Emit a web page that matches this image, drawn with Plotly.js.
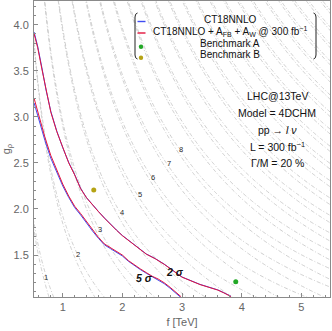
<!DOCTYPE html>
<html>
<head>
<meta charset="utf-8">
<script src="https://cdn.plot.ly/plotly-3.0.1.min.js"></script>
<style>html,body{margin:0;padding:0;background:#fff}#plot{width:332px;height:331px}</style>
</head>
<body>
<div id="plot"></div>
<script>
// 5 sigma reach (lower pair)
var f5 = [0.52, 0.60, 0.70, 0.80, 0.90, 1.00, 1.10, 1.20, 1.30, 1.40, 1.50, 1.60, 1.70, 1.80, 1.90, 2.00, 2.10, 2.20, 2.30, 2.40, 2.50, 2.60, 2.70, 2.80, 2.90, 2.98];
var g5Red = [3.20, 3.00, 2.78, 2.58, 2.42, 2.27, 2.14, 2.03, 1.95, 1.86, 1.77, 1.69, 1.62, 1.58, 1.54, 1.50, 1.44, 1.39, 1.35, 1.31, 1.27, 1.24, 1.20, 1.15, 1.09, 1.05];
var g5Blue = [3.15, 2.96, 2.745, 2.55, 2.395, 2.25, 2.125, 2.015, 1.935, 1.845, 1.76, 1.68, 1.61, 1.57, 1.53, 1.49, 1.433, 1.383, 1.343, 1.303, 1.263, 1.23, 1.19, 1.14, 1.08, 1.04];

// 2 sigma reach (upper pair)
var f2 = [0.52, 0.58, 0.65, 0.72, 0.80, 0.90, 1.00, 1.10, 1.20, 1.30, 1.40, 1.50, 1.60, 1.70, 1.80, 1.90, 2.00, 2.10, 2.20, 2.30, 2.40, 2.55, 2.70, 2.85, 3.00, 3.15, 3.30, 3.45, 3.60, 3.70, 3.82];
var g2Red = [3.90, 3.75, 3.52, 3.28, 3.05, 2.84, 2.66, 2.50, 2.37, 2.22, 2.12, 2.04, 1.97, 1.90, 1.83, 1.77, 1.71, 1.66, 1.60, 1.56, 1.51, 1.46, 1.40, 1.33, 1.26, 1.22, 1.18, 1.15, 1.12, 1.09, 1.05];
var g2Blue = [3.92, 3.765, 3.535, 3.29, 3.06, 2.845, 2.665, 2.505, 2.373, 2.223, 2.122, 2.042, 1.972, 1.902, 1.832, 1.772, 1.712, 1.662, 1.602, 1.562, 1.512, 1.462, 1.402, 1.332, 1.262, 1.222, 1.182, 1.152, 1.122, 1.092, 1.052];

// benchmark points
var benchAF = [3.90], benchAG = [1.21];
var benchBF = [1.52], benchBG = [2.205];

// mass contour labels (TeV)
var labelText = ['1', '2', '3', '4', '5', '6', '7', '8'];
var labelF = [0.726, 1.256, 1.620, 1.995, 2.292, 2.515, 2.773, 2.979];
var labelG = [1.257, 1.503, 1.782, 1.962, 2.154, 2.341, 2.498, 2.649];

// contour levels of the two heavy boson masses
var massStart = 1, massEnd = 30, massStep = 1;

var gridF = [], gridG = [];
for (var i = 0; i <= 260; i++) gridF.push(0.4 + i * 0.02);
for (var j = 0; j <= 175; j++) gridG.push(0.95 + j * 0.02);
function massGrid(c) {
  var z = [];
  for (var j = 0; j < gridG.length; j++) {
    var row = [];
    for (var i = 0; i < gridF.length; i++) row.push(gridF[i] * Math.sqrt(gridG[j] * gridG[j] + c));
    z.push(row);
  }
  return z;
}

var BLUE = '#3f4cf2', RED = '#e3143c';

function contourTrace(c) {
  return {
    type: 'contour', x: gridF, y: gridG, z: massGrid(c),
    autocontour: false,
    contours: {start: massStart, end: massEnd, size: massStep, coloring: 'none'},
    line: {color: '#c2c2c2', width: 0.8, dash: '4px,2px,1px,2px'},
    showscale: false, hoverinfo: 'skip'
  };
}

var data = [
  contourTrace(0.3),
  contourTrace(0.6),
  {x: f2, y: g2Blue, mode: 'lines', line: {color: BLUE, width: 1}},
  {x: f2, y: g2Red, mode: 'lines', line: {color: RED, width: 1}},
  {x: f5, y: g5Blue, mode: 'lines', line: {color: BLUE, width: 1}},
  {x: f5, y: g5Red, mode: 'lines', line: {color: RED, width: 1}},
  {x: benchAF, y: benchAG, mode: 'markers', marker: {color: '#22a826', size: 5}},
  {x: benchBF, y: benchBG, mode: 'markers', marker: {color: '#b5a314', size: 5}}
];

// pixel -> paper helpers for the decorations
var L = 34, T = 1, W = 296, H = 296;
function px(x) { return (x - L) / W; }
function py(y) { return 1 - (y - T) / H; }

var FONT = 'Liberation Sans, Arial, sans-serif';
function note(x, y, text, size, ref) {
  var a = {x: x, y: y, text: text, showarrow: false, xanchor: 'center', yanchor: 'middle',
    font: {size: size, color: '#111', family: FONT}};
  if (ref) { a.xref = 'paper'; a.yref = 'paper'; }
  return a;
}

var annotations = [];
for (var k = 0; k < labelText.length; k++) {
  var a = note(labelF[k], labelG[k], labelText[k], 7.5);
  a.font.color = '#2a2a2a';
  annotations.push(a);
}
annotations.push(note(2.375, 1.251, '<b><i>5 σ</i></b>', 10.5));
annotations.push(note(2.884, 1.319, '<b><i>2 σ</i></b>', 10.5));

var legendText = ['CT18NNLO', 'CT18NNLO + A<sub>FB</sub> + A<sub>W</sub> @ 300 fb<sup>−1</sup>', 'Benchmark A', 'Benchmark B'];
var legendY = [19, 31.5, 43.5, 54.5];
for (var k = 0; k < legendText.length; k++) {
  annotations.push(note(px(230), py(legendY[k]), legendText[k], 10, true));
}

var infoText = ['LHC@13TeV', 'Model = 4DCHM', 'pp → <i>l ν</i>', 'L = 300 fb<sup>−1</sup>', 'Γ/M = 20 %'];
var infoY = [96.5, 113, 129.5, 146, 162.5];
for (var k = 0; k < infoText.length; k++) {
  annotations.push(note(px(277), py(infoY[k]), infoText[k], 10.5, true));
}

function bracket(x0, dir) {
  var a = px(x0), b = px(x0 + 2.5 * dir);
  return 'M ' + b + ',' + py(13) + ' Q ' + a + ',' + py(13.5) + ' ' + a + ',' + py(17) +
    ' L ' + a + ',' + py(55) + ' Q ' + a + ',' + py(58.5) + ' ' + b + ',' + py(59);
}

var shapes = [
  {type: 'path', xref: 'paper', yref: 'paper', path: bracket(135, 1), line: {color: '#222', width: 1}},
  {type: 'path', xref: 'paper', yref: 'paper', path: bracket(316, -1), line: {color: '#222', width: 1}},
  {type: 'line', xref: 'paper', yref: 'paper', x0: px(137.5), x1: px(145.5), y0: py(21.5), y1: py(21.5), line: {color: BLUE, width: 1.4}},
  {type: 'line', xref: 'paper', yref: 'paper', x0: px(137.5), x1: px(145.5), y0: py(33), y1: py(33), line: {color: RED, width: 1.4}},
  {type: 'circle', xref: 'paper', yref: 'paper', x0: px(138.8), x1: px(143.2), y0: py(44.5), y1: py(48.9), fillcolor: '#22a826', line: {width: 0}},
  {type: 'circle', xref: 'paper', yref: 'paper', x0: px(138.8), x1: px(143.2), y0: py(55.5), y1: py(59.9), fillcolor: '#b5a314', line: {width: 0}}
];

var axisCommon = {
  showline: true, mirror: true, linecolor: '#8a8a8a', linewidth: 1,
  ticks: 'inside', ticklen: 4, tickcolor: '#8a8a8a', showgrid: false, zeroline: false,
  tickfont: {size: 11, color: '#666', family: FONT}
};

var layout = {
  width: 332, height: 331,
  margin: {l: L, r: 2, t: T, b: 34},
  paper_bgcolor: '#fff', plot_bgcolor: '#fff',
  showlegend: false,
  xaxis: Object.assign({}, axisCommon, {
    range: [0.518, 5.48], dtick: 1, tick0: 0,
    minor: {ticks: 'inside', ticklen: 2, dtick: 0.2, tickcolor: '#8a8a8a'},
    title: {text: 'f [TeV]', font: {size: 11, color: '#666', family: FONT}, standoff: 6}
  }),
  yaxis: Object.assign({}, axisCommon, {
    range: [1.045, 4.257], dtick: 0.5, tick0: 0, tickformat: '.1f', ticklabelstandoff: 2,
    minor: {ticks: 'inside', ticklen: 2, dtick: 0.1, tickcolor: '#8a8a8a'},
    title: {text: 'g<sub>ρ</sub>', font: {size: 11, color: '#666', family: FONT}, standoff: 4}
  }),
  annotations: annotations,
  shapes: shapes
};

Plotly.newPlot('plot', data, layout, {displayModeBar: false, staticPlot: true});
</script>
</body>
</html>
